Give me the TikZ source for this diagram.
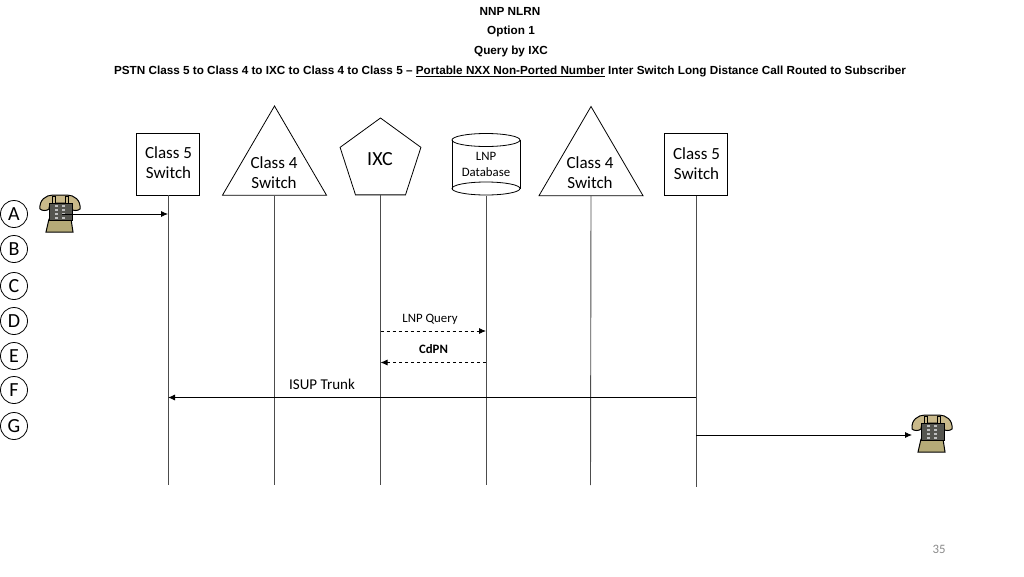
\documentclass[tikz,border=0pt]{standalone}
\usepackage{fontspec}
\setmainfont{Carlito}
\newfontfamily\titlefont{Liberation Sans}
\usetikzlibrary{arrows.meta,shapes.geometric}
\definecolor{phonetan}{HTML}{C9B98A}
\definecolor{phonebody}{HTML}{B5AB78}
\definecolor{phoneface}{HTML}{55554F}
\definecolor{pagegray}{HTML}{8A8A8A}
\tikzset{phone/.pic={
    \draw [fill=phonetan, line width=1pt] (-20,-5) .. controls (-21,-14) and (-14,-19) .. (-7,-19) -- (7,-19) .. controls (14,-19) and (21,-14) .. (20,-5) .. controls (18,-3) and (13,-3) .. (11,-5) .. controls (11,-9) and (9,-11) .. (6,-11) -- (-6,-11) .. controls (-9,-11) and (-11,-9) .. (-11,-5) .. controls (-13,-3) and (-18,-3) .. cycle;
    \draw [fill=phonetan, line width=1pt] (-8,-18) rectangle (-5,-10);
    \draw [fill=phonetan, line width=1pt] (5,-18) rectangle (8,-10);
    \draw [fill=phonebody, line width=1pt] (-11,5) -- (11,5) -- (13,18) -- (-14,18) -- cycle;
    \draw [fill=phoneface, line width=1pt] (-11,-11) rectangle (12,6);
    \foreach \kx in {-5,2}
        \foreach \ky in {-9,-5,-1,3}
            \fill [white!75!black] (\kx,\ky) rectangle ++(3,2.2);
}}
\begin{document}
\begin{tikzpicture} [x=1pt, y=-1pt, line width=0.8pt,
                switch_box/.style={draw, minimum width=63pt, minimum height=62pt, inner sep=0pt},
                tri_shape/.style={draw, regular polygon, regular polygon sides=3, minimum size=119pt, inner sep=0pt, xscale=1.01},
                pent_shape/.style={draw, regular polygon, regular polygon sides=5, minimum size=85pt, inner sep=0pt},
                db_shape/.style={minimum width=68pt, minimum height=62pt, inner sep=0pt, align=center, font=\fontsize{12.8}{16}\selectfont},
                shape_text/.style={align=center, inner sep=0pt, font=\fontsize{17}{20}\selectfont},
                row_mark/.style={circle, draw, minimum size=27pt, inner sep=0pt, font=\fontsize{20}{20}\selectfont},
                title_line/.style={inner sep=0pt, font=\titlefont\bfseries\fontsize{11.73}{14}\selectfont},
                life_line/.style={draw=black!70, line width=0.9pt},
                msg_line/.style={-{Latex[length=7pt,width=6pt]}},
                msg_text/.style={inner sep=0pt, font=\fontsize{12.8}{14}\selectfont}]
                \useasboundingbox (0,0) rectangle (1024,576);
                % titles
                \node [title_line] (t1) at (510,11.5) {NNP NLRN};
                \node [title_line] (t2) at (511,31.5) {Option 1};
                \node [title_line] (t3) at (511,51.5) {Query by IXC};
                \node [title_line] (t4) at (510,71.5) {PSTN Class 5 to Class 4 to IXC to Class 4 to Class 5 – \underline{Portable NXX Non-Ported Number} Inter Switch Long Distance Call Routed to Subscriber};
                % switches
                \node [switch_box] (s1) at (168,164) {};
                \node [shape_text] (s1t) at (168.5,163) {Class 5\\Switch};
                \node [tri_shape] (s2) at (274.5,165.5) {};
                \node [shape_text] (s2t) at (274,173) {Class 4\\Switch};
                \node [pent_shape] (s3) at (380.5,160.5) {};
                \node [shape_text, font=\fontsize{20}{20}\selectfont] (s3t) at (380,159) {IXC};
                \node [db_shape] (s4) at (486,164.5) {LNP\\Database};
                \draw (452,140) -- (452,188.5) (520,140) -- (520,188.5);
                \draw (s4.center |- 0,140) ellipse [x radius=34, y radius=6.5];
                \draw (s4.center |- 0,188.5) ellipse [x radius=34, y radius=6.5];
                \node [tri_shape] (s5) at (591,166) {};
                \node [shape_text] (s5t) at (590,173) {Class 4\\Switch};
                \node [switch_box] (s6) at (696,164.5) {};
                \node [shape_text] (s6t) at (696.5,164) {Class 5\\Switch};
                % row letters
                \node [row_mark] (ra) at (14,214) {A};
                \node [row_mark] (rb) at (14,249) {B};
                \node [row_mark] (rc) at (14,286) {C};
                \node [row_mark] (rd) at (14,321) {D};
                \node [row_mark] (re) at (14,356) {E};
                \node [row_mark] (rf) at (14,390) {F};
                \node [row_mark] (rg) at (14,426) {G};
                % ends of the lifelines
                \coordinate (e1) at (168,485);
                \coordinate (e2) at (274.5,485);
                \coordinate (e3) at (380.5,485);
                \coordinate (e4) at (486,485);
                \coordinate (e5) at (590.5,485);
                \coordinate (e6) at (696,487);
                \foreach \v in {1,...,6}
                    \draw [life_line] (s\v.south) -- (e\v);
                % phones
                \pic at (60,214) {phone};
                \pic at (932,434) {phone};
                \coordinate (p1) at (62,214);
                \coordinate (p2) at (912,435);
                \coordinate (m1a) at (s1.south |- p1);
                \coordinate (m2a) at (s6.south |- p2);
                \coordinate (m3a) at (s3.south |- 0,331);
                \coordinate (m3b) at (s4.south |- 0,331);
                \coordinate (m4a) at (s3.south |- 0,362.5);
                \coordinate (m4b) at (s4.south |- 0,362.5);
                \coordinate (m5a) at (s1.south |- 0,397.5);
                \coordinate (m5b) at (s6.south |- 0,397.5);
                % messages
                \draw [msg_line] (p1) -- (m1a);
                \draw [msg_line] (m2a) -- (p2);
                \draw [msg_line, dashed] (m3a) -- (m3b);
                \draw [msg_line, dashed] (m4b) -- (m4a);
                \draw [msg_line] (m5b) -- (m5a);
                \node [msg_text] (l1) at (430,319) {LNP Query};
                \node [msg_text, font=\bfseries\fontsize{12.8}{14}\selectfont] (l2) at (433.5,349.5) {CdPN};
                \node [msg_text, font=\fontsize{15}{16}\selectfont] (l3) at (322,384.5) {ISUP Trunk};
                \node [msg_text, text=pagegray] (pg) at (939,549.5) {35};
            \end{tikzpicture}
\end{document}
